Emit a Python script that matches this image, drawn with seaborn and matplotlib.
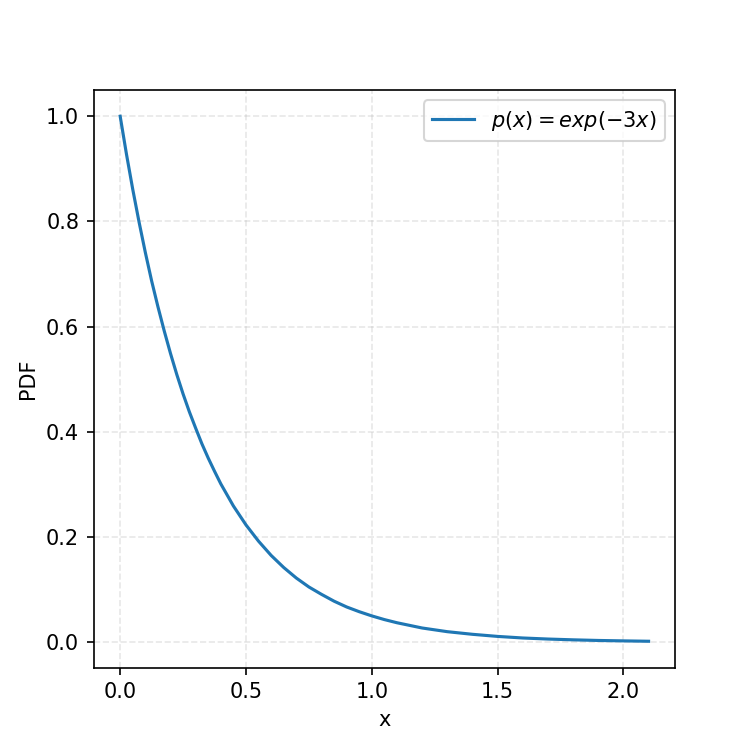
import matplotlib
matplotlib.use("Agg")
import numpy as np
import pandas as pd
import seaborn as sns
import matplotlib.pyplot as plt

# points
x_vals = [0.0, 0.025, 0.05, 0.075, 0.1, 0.125, 0.15, 0.175, 0.2, 0.225, 0.25,
          0.275, 0.3, 0.325, 0.35, 0.375, 0.4, 0.45, 0.5, 0.55, 0.6, 0.65, 0.7,
          0.75, 0.8, 0.85, 0.9, 0.95, 1.0, 1.05, 1.1, 1.15, 1.2, 1.3, 1.4,
          1.5, 1.6, 1.7, 1.8, 1.9, 2.0, 2.1]
pdf_vals = [1.0, 0.928, 0.861, 0.799, 0.741, 0.687, 0.638, 0.592, 0.549, 0.509,
            0.472, 0.438, 0.407, 0.377, 0.350, 0.325, 0.301, 0.259, 0.223,
            0.192, 0.165, 0.142, 0.122, 0.105, 0.091, 0.078, 0.067, 0.058,
            0.050, 0.043, 0.037, 0.032, 0.027, 0.020, 0.015, 0.011, 0.008,
            0.006, 0.0045, 0.0033, 0.0025, 0.0018]
label = r"$p(x) = exp(-3x)$"

df = pd.DataFrame({"x": x_vals, "PDF": pdf_vals})

fig, ax = plt.subplots(figsize=(5, 5), dpi=150)
sns.lineplot(data=df, x="x", y="PDF", ax=ax, color="#1f77b4", label=label)
ax.grid(True, linestyle="--", alpha=0.3)
ax.set_xlabel("x")
ax.set_ylabel("PDF")
ax.legend(loc="upper right")
plt.savefig("out.png")
plt.close()
